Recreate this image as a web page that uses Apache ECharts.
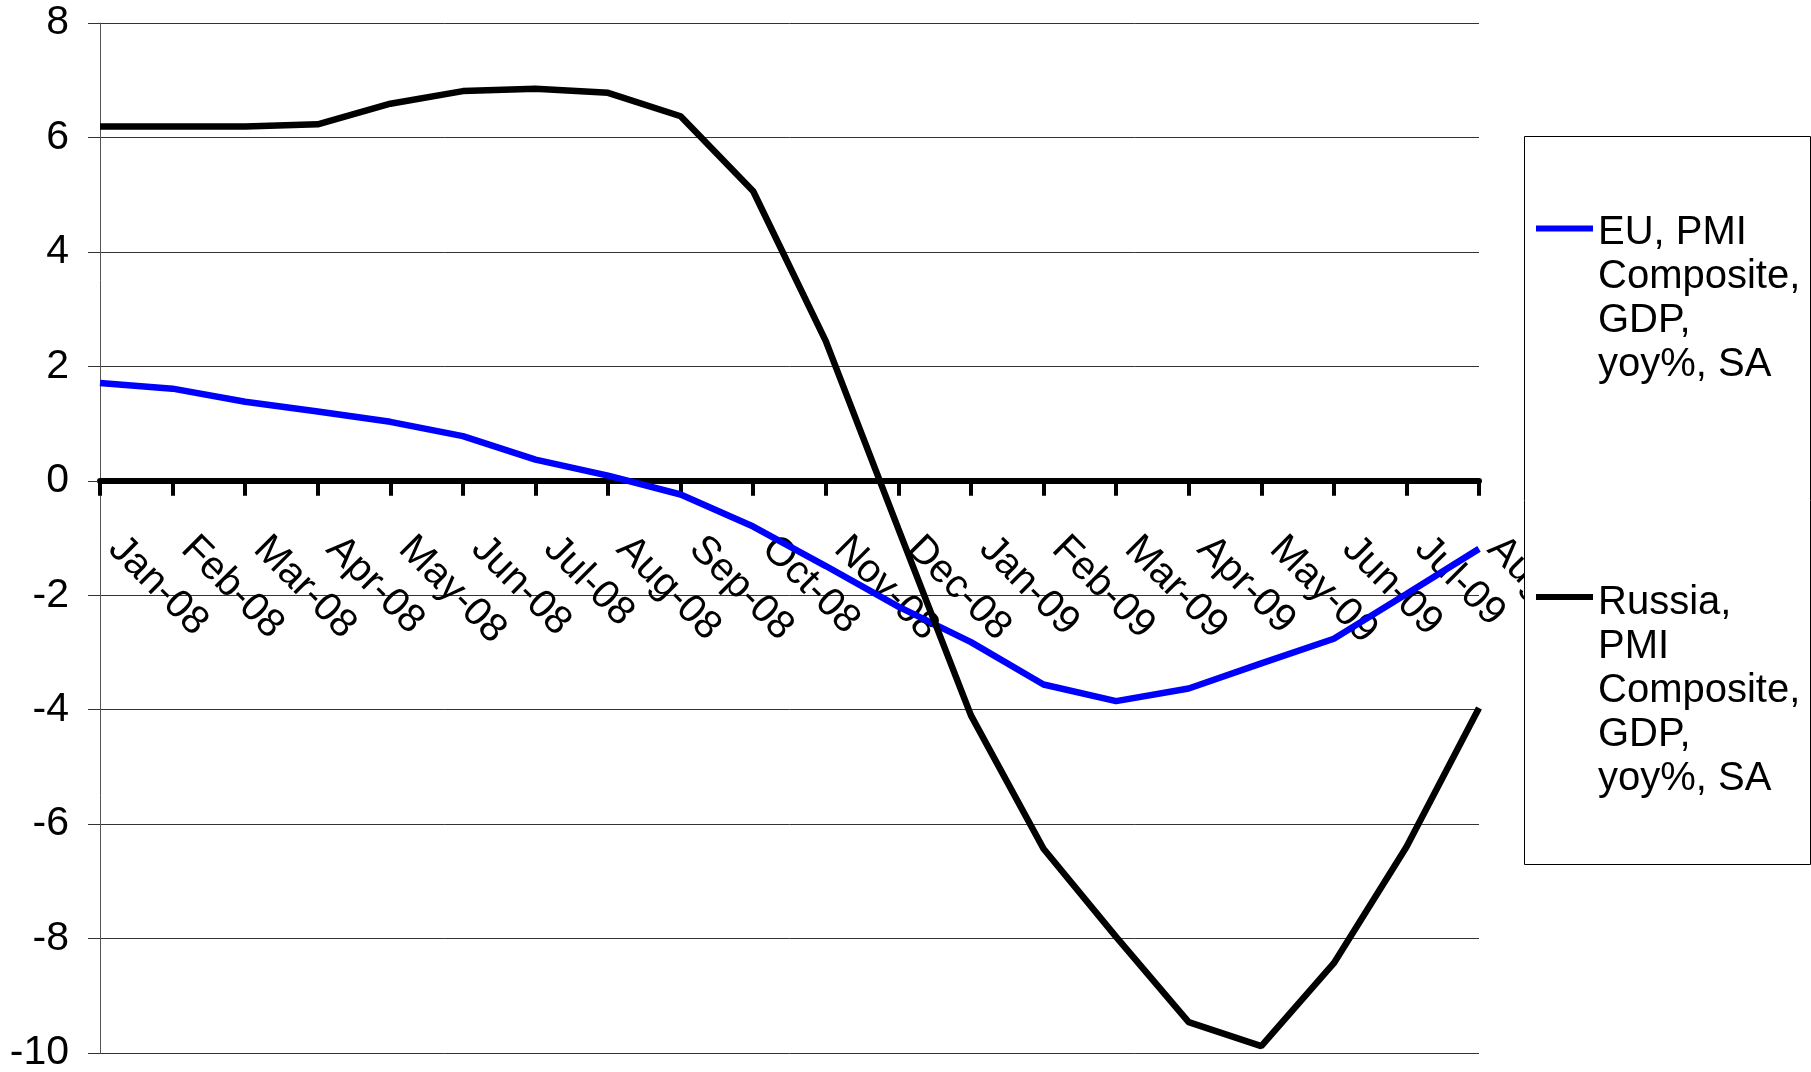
<!DOCTYPE html>
<html>
<head>
<meta charset="utf-8">
<title>EU and Russia, PMI Composite GDP, yoy%</title>
<script src="https://cdn.jsdelivr.net/npm/echarts@6/dist/echarts.min.js"></script>
<style>
  html, body { margin: 0; padding: 0; background: #fff; }
  #chart { width: 1811px; height: 1072px; }
</style>
</head>
<body>
<div id="chart"></div>
<script>
// Monthly categories
const months = ['Jan-08', 'Feb-08', 'Mar-08', 'Apr-08', 'May-08', 'Jun-08', 'Jul-08', 'Aug-08',
  'Sep-08', 'Oct-08', 'Nov-08', 'Dec-08', 'Jan-09', 'Feb-09', 'Mar-09', 'Apr-09',
  'May-09', 'Jun-09', 'Jul-09', 'Aug-09'];

// PMI composite implied GDP, yoy%, SA
const euValues = [1.71, 1.61, 1.38, 1.21, 1.03, 0.78, 0.37, 0.09, -0.24, -0.80,
  -1.49, -2.20, -2.82, -3.56, -3.85, -3.63, -3.19, -2.76, -1.98, -1.19];
const russiaValues = [6.19, 6.19, 6.19, 6.23, 6.59, 6.81, 6.85, 6.78, 6.37, 5.06,
  2.44, -0.84, -4.10, -6.43, -7.97, -9.46, -9.88, -8.43, -6.40, -3.97];

// Series names as shown in the legend
const euName = 'EU, PMI\nComposite,\nGDP,\nyoy%, SA';
const russiaName = 'Russia,\nPMI\nComposite,\nGDP,\nyoy%, SA';

// Value axis range
const yMin = -10;
const yMax = 8;
const yStep = 2;

const FONT = '"Liberation Sans", Arial, sans-serif';

// Plot area
const GRID = { left: 100, right: 332, top: 23, bottom: 19 };
const CHART_H = 1072;
const plotH = CHART_H - GRID.top - GRID.bottom;
// Lift the category axis from the bottom edge up to the zero line
const zeroOffset = -plotH * (0 - yMin) / (yMax - yMin);

const chart = echarts.init(document.getElementById('chart'), null, { renderer: 'canvas' });

// Pad each legend label with blank lines on top so the swatch sits beside the first line
function legendLabel(name) {
  const n = name.split('\n').length;
  return '{pad| }\n'.repeat(n - 1) + name;
}

chart.setOption({
  animation: false,
  backgroundColor: '#ffffff',
  grid: {
    left: GRID.left,
    right: GRID.right,
    top: GRID.top,
    bottom: GRID.bottom,
    containLabel: false,
    outerBoundsMode: 'none'
  },
  graphic: {
    elements: [{
      type: 'rect',
      z: 3,
      shape: { x: 1524.5, y: 136.5, width: 286, height: 728 },
      style: { fill: '#ffffff', stroke: '#000000', lineWidth: 1 }
    }]
  },
  legend: {
    z: 5,
    orient: 'vertical',
    left: 1536,
    top: 70,
    padding: 0,
    itemGap: 6,
    itemWidth: 57,
    itemHeight: 6,
    icon: 'rect',
    selectedMode: false,
    formatter: legendLabel,
    textStyle: {
      fontFamily: FONT,
      fontSize: 40,
      lineHeight: 44,
      color: '#000000',
      rich: {
        pad: { fontFamily: FONT, fontSize: 40, lineHeight: 47 }
      }
    },
    data: [euName, russiaName]
  },
  xAxis: {
    type: 'category',
    data: months,
    boundaryGap: false,
    offset: zeroOffset,
    axisLine: {
      onZero: false,
      lineStyle: { color: '#000000', width: 6 }
    },
    axisTick: {
      show: true,
      interval: 0,
      length: 15,
      lineStyle: { color: '#000000', width: 4 }
    },
    axisLabel: {
      show: true,
      interval: 0,
      rotate: -45,
      margin: 47,
      padding: [0, 0, 0, 21],
      hideOverlap: false,
      showMinLabel: true,
      showMaxLabel: true,
      fontFamily: FONT,
      fontSize: 40,
      color: '#000000'
    },
    splitLine: { show: false }
  },
  yAxis: {
    type: 'value',
    min: yMin,
    max: yMax,
    interval: yStep,
    axisLine: {
      show: true,
      lineStyle: { color: '#555555', width: 1 }
    },
    axisTick: {
      show: true,
      length: 12,
      lineStyle: { color: '#333333', width: 1 }
    },
    axisLabel: {
      margin: 31,
      fontFamily: FONT,
      fontSize: 41,
      color: '#000000'
    },
    splitLine: {
      show: true,
      lineStyle: { color: '#333333', width: 1 }
    }
  },
  series: [
    {
      name: euName,
      type: 'line',
      data: euValues,
      symbol: 'none',
      color: '#0000ff',
      lineStyle: { color: '#0000ff', width: 6.5 },
      z: 2
    },
    {
      name: russiaName,
      type: 'line',
      data: russiaValues,
      symbol: 'none',
      color: '#000000',
      lineStyle: { color: '#000000', width: 6.5 },
      z: 3
    }
  ]
});
</script>
</body>
</html>
